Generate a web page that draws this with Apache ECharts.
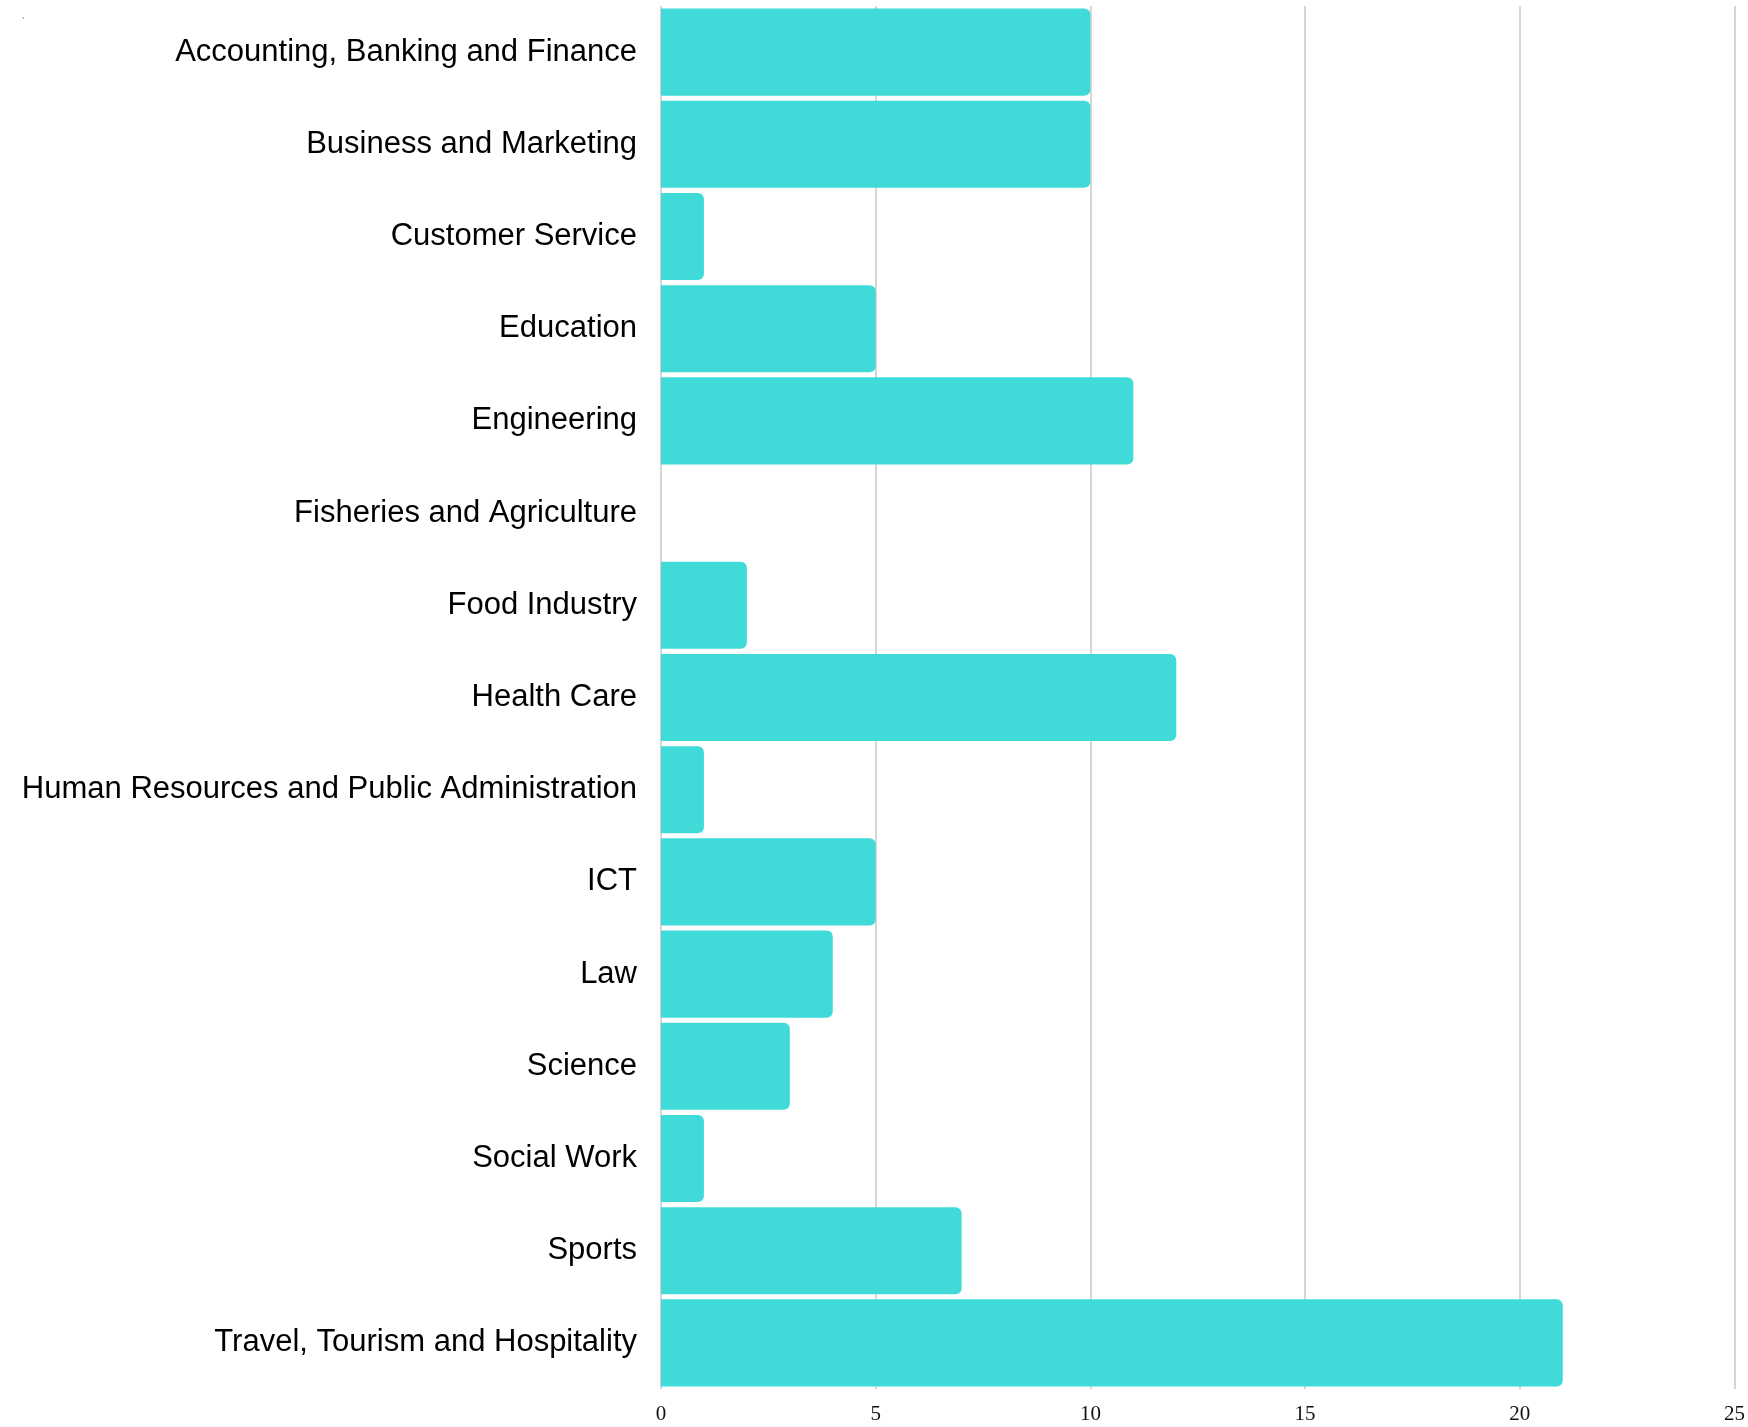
<!DOCTYPE html>
<html>
<head>
<meta charset="utf-8">
<script src="https://cdn.jsdelivr.net/npm/echarts@6/dist/echarts.min.js"></script>
<style>
html,body{margin:0;padding:0;background:#fff;}
#chart{width:1748px;height:1427px;}
</style>
</head>
<body>
<div id="chart"></div>
<script>
var categories = [
  "Accounting, Banking and Finance",
  "Business and Marketing",
  "Customer Service",
  "Education",
  "Engineering",
  "Fisheries and Agriculture",
  "Food Industry",
  "Health Care",
  "Human Resources and Public Administration",
  "ICT",
  "Law",
  "Science",
  "Social Work",
  "Sports",
  "Travel, Tourism and Hospitality"
];
var values = [10, 10, 1, 5, 11, 0, 2, 12, 1, 5, 4, 3, 1, 7, 21];
var xTicks = [0, 5, 10, 15, 20, 25];

var chart = echarts.init(document.getElementById('chart'), null, {renderer: 'canvas'});
chart.setOption({
  animation: false,
  backgroundColor: '#ffffff',
  graphic: [{
    type: 'text', left: 22, top: 12,
    style: {text: ',', fontSize: 8, fill: '#333', fontFamily: 'Liberation Sans'}
  }],
  grid: {left: 661, right: 12, top: 6, bottom: 38},
  xAxis: {
    type: 'value',
    min: xTicks[0],
    max: xTicks[xTicks.length - 1],
    interval: 5,
    axisLine: {show: false},
    axisTick: {show: false},
    splitLine: {show: true, lineStyle: {color: '#c8c8c8', width: 1.5}},
    axisLabel: {
      margin: 15,
      fontFamily: 'Liberation Serif',
      fontSize: 21,
      color: '#111'
    }
  },
  yAxis: {
    type: 'category',
    inverse: true,
    data: categories,
    axisLine: {show: false},
    axisTick: {show: false},
    splitLine: {show: false},
    axisLabel: {
      margin: 24,
      fontFamily: 'Liberation Sans',
      fontSize: 31,
      color: '#000',
      padding: [8, 0, 0, 0]
    }
  },
  series: [{
    type: 'bar',
    data: values,
    barCategoryGap: '5.5%',
    itemStyle: {color: '#40dbd8', borderRadius: [0, 6, 6, 0]}
  }]
});
</script>
</body>
</html>
